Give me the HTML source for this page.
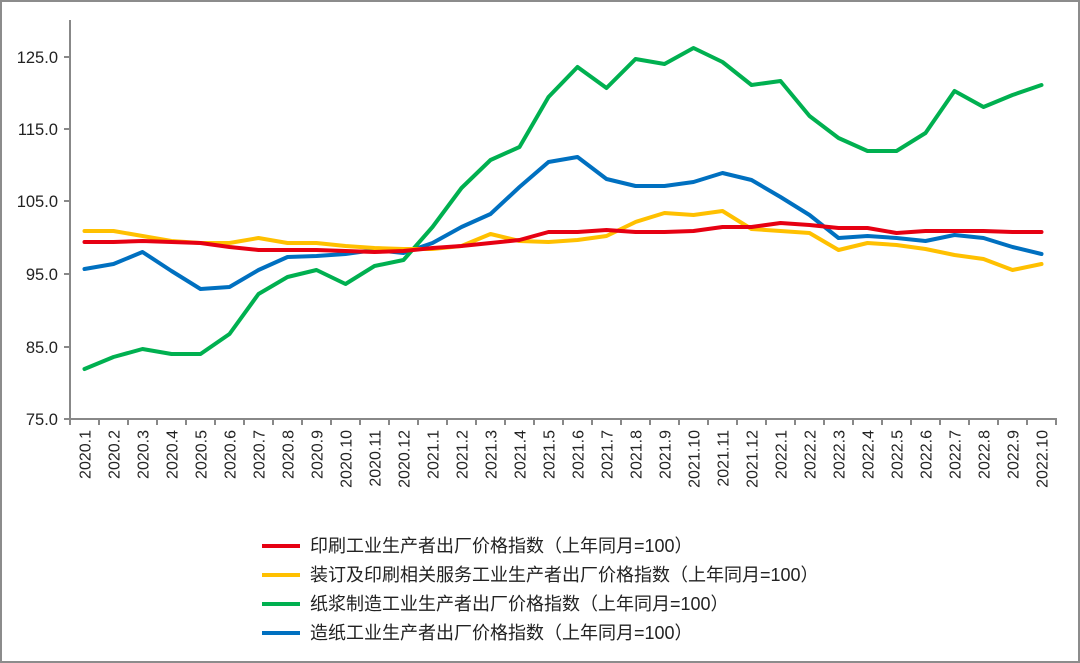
<!DOCTYPE html>
<html><head><meta charset="utf-8"><style>
html,body{margin:0;padding:0;background:#fff}
svg{display:block}
text{font-family:"Liberation Sans","Noto Sans CJK SC",sans-serif;fill:#222}
</style></head><body>
<svg width="1080" height="663" viewBox="0 0 1080 663">
<rect x="1" y="1" width="1078" height="661" fill="#fff" stroke="#8c8c8c" stroke-width="2"/>
<g stroke="#888" stroke-width="2" fill="none">
<line x1="70" y1="20" x2="70" y2="420"/>
<line x1="70" y1="419" x2="1057" y2="419"/>
<line x1="64" y1="57" x2="70" y2="57"/>
<line x1="64" y1="129" x2="70" y2="129"/>
<line x1="64" y1="201" x2="70" y2="201"/>
<line x1="64" y1="274" x2="70" y2="274"/>
<line x1="64" y1="347" x2="70" y2="347"/>
<line x1="64" y1="419" x2="70" y2="419"/>
</g>
<g id="xt" stroke="#888" stroke-width="2"></g>
<g font-size="16.5" text-anchor="end">
<text x="58" y="63">125.0</text>
<text x="58" y="135">115.0</text>
<text x="58" y="207">105.0</text>
<text x="58" y="280">95.0</text>
<text x="58" y="353">85.0</text>
<text x="58" y="425">75.0</text>
</g>
<g id="xl" font-size="16" text-anchor="end"></g>
<g id="series" fill="none" stroke-width="4" stroke-linejoin="round" stroke-linecap="round"></g>
<g stroke-width="4">
<line x1="262" y1="546" x2="300" y2="546" stroke="#e60012"/>
<line x1="262" y1="575" x2="300" y2="575" stroke="#ffc000"/>
<line x1="262" y1="604" x2="300" y2="604" stroke="#00b050"/>
<line x1="262" y1="633" x2="300" y2="633" stroke="#0070c0"/>
</g>
<g font-size="18">
<text x="310" y="552">印刷工业生产者出厂价格指数（上年同月=100）</text>
<text x="310" y="581">装订及印刷相关服务工业生产者出厂价格指数（上年同月=100）</text>
<text x="310" y="610">纸浆制造工业生产者出厂价格指数（上年同月=100）</text>
<text x="310" y="639">造纸工业生产者出厂价格指数（上年同月=100）</text>
</g>
</svg>
<script>
var ns="http://www.w3.org/2000/svg";
var xt=document.getElementById('xt'),xl=document.getElementById('xl'),se=document.getElementById('series');
var labels=[];for(var y=2020;y<=2022;y++)for(var m=1;m<=12;m++){if(y==2022&&m>10)break;labels.push(y+'.'+m);}
for(var i=0;i<=34;i++){var x=70+i*29;var l=document.createElementNS(ns,'line');l.setAttribute('x1',x);l.setAttribute('x2',x);l.setAttribute('y1',419);l.setAttribute('y2',425);xt.appendChild(l);}
labels.forEach(function(s,i){var x=84.5+i*29+6;var t=document.createElementNS(ns,'text');t.setAttribute('transform','translate('+x+',430) rotate(-90)');t.textContent=s;xl.appendChild(t);});
var data=[
["#0070c0",[269,264,252,271,289,287,270,257,256,254,250,253,243,227,214,187,162,157,179,186,186,182,173,180,197,215,238,236,238,241,235,238,247,254]],
["#00b050",[369,357,349,354,354,334,294,277,270,284,266,260,227,188,160,147,97,67,88,59,64,48,62,85,81,116,138,151,151,133,91,107,95,85]],
["#ffc000",[231,231,236,241,243,243,238,243,243,246,248,249,249,246,234,241,242,240,236,222,213,215,211,229,231,233,250,243,245,249,255,259,270,264]],
["#e60012",[242,242,241,242,243,247,250,250,250,251,252,251,248,246,243,240,232,232,230,232,232,231,227,227,223,225,228,228,233,231,231,231,232,232]]
];
data.forEach(function(d){var p=document.createElementNS(ns,'polyline');p.setAttribute('stroke',d[0]);p.setAttribute('points',d[1].map(function(v,i){return (84.5+i*29)+','+v}).join(' '));se.appendChild(p);});
</script>
</body></html>
